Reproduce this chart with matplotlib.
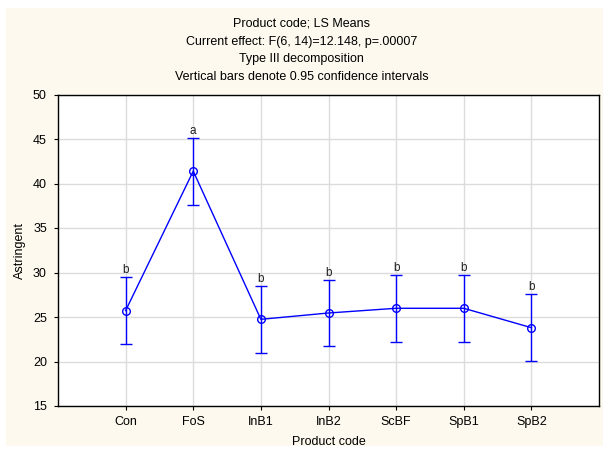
import matplotlib
matplotlib.use("Agg")
import matplotlib.pyplot as plt
from matplotlib.patches import Rectangle

plt.rcParams['font.family'] = ['Liberation Sans', 'DejaVu Sans']

# LS means of astringency per product code, with 0.95 CI half-widths
products = ["Con", "FoS", "InB1", "InB2", "ScBF", "SpB1", "SpB2"]
means = [25.72, 41.39, 24.74, 25.45, 25.98, 25.98, 23.80]
ci_half = [3.75, 3.75, 3.75, 3.75, 3.75, 3.75, 3.75]
groups = ["b", "a", "b", "b", "b", "b", "b"]

title_lines = [
    "Product code; LS Means",
    "Current effect: F(6, 14)=12.148, p=.00007",
    "Type III decomposition",
    "Vertical bars denote 0.95 confidence intervals",
]
yticks = [15, 20, 25, 30, 35, 40, 45, 50]

W, H = 603, 451
fig = plt.figure(figsize=(W / 100, H / 100), dpi=100, facecolor="white")

# cream panel behind the plot
fig.patches.append(Rectangle((6 / W, 5 / H), (W - 6) / W, (H - 13) / H,
                             transform=fig.transFigure, facecolor="#fdf9ee",
                             edgecolor="none", zorder=-10))

ax = fig.add_axes([58 / W, (H - 406) / H, (599 - 58) / W, (406 - 94.5) / H])
ax.set_facecolor("white")

x = list(range(len(products)))
blue = "#0000ff"
ax.errorbar(x, means, yerr=ci_half, color=blue, lw=1.0, elinewidth=1.0,
            capsize=4, capthick=1.0, marker="o", markersize=5.5,
            markerfacecolor="none", markeredgecolor=blue, markeredgewidth=1.0,
            zorder=3)

for xi, m, h, g in zip(x, means, ci_half, groups):
    ax.text(xi, m + h + 0.1, g, ha="center", va="bottom", fontsize=8.5,
            color="#202020")

ax.set_xlim(-1, 7)
ax.set_ylim(15, 50)
ax.set_xticks(x)
ax.set_xticklabels(products)
ax.set_yticks(yticks)
ax.grid(True, color="#dcdcdc", lw=1.0, zorder=0)
ax.set_axisbelow(True)
ax.tick_params(direction="out", length=3, width=0.8, labelsize=9,
               colors="black")
ax.tick_params(axis="x", pad=4)
ax.tick_params(axis="y", pad=5)
for s in ax.spines.values():
    s.set_color("black")
    s.set_linewidth(1.0)

ax.set_xlabel("Product code", fontsize=9, labelpad=6)
ax.set_ylabel("Astringent", fontsize=9, labelpad=5)

for i, line in enumerate(title_lines):
    fig.text(0.5, 1 - (24 + 17.7 * i) / H, line, ha="center", va="center",
             fontsize=9)

fig.savefig("out.png", dpi=100, facecolor=fig.get_facecolor())
